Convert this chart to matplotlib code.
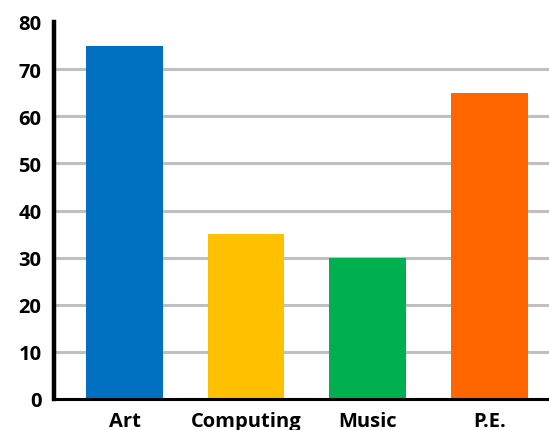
import numpy as np
import matplotlib
matplotlib.use("Agg")
import matplotlib.pyplot as plt

subjects = ["Art", "Computing", "Music", "P.E."]
values = [75, 35, 30, 65]
colours = ["#0070C0", "#FFC000", "#00B050", "#FF6600"]
yticks = [0, 10, 20, 30, 40, 50, 60, 70, 80]

plt.rcParams['font.family'] = ['Open Sans', 'DejaVu Sans']

fig = plt.figure(figsize=(5.49, 4.31), dpi=100)
ax = fig.add_axes([54/549, 31/431, 495/549, 377/431])

x = np.arange(len(subjects))
ax.bar(x, values, width=0.63, color=colours, zorder=3)

ax.set_xlim(-0.58, 3.49)
ax.set_ylim(0, 80)
ax.set_yticks(yticks)
ax.set_xticks(x)
ax.set_xticklabels(subjects)
ax.tick_params(axis='both', length=0, labelsize=14.5, pad=9)
ax.tick_params(axis='x', pad=9)
for lab in ax.get_xticklabels() + ax.get_yticklabels():
    lab.set_fontweight('bold')

ax.yaxis.grid(True, color="#C0C0C0", linewidth=2.2, zorder=0)
ax.get_ygridlines()[0].set_visible(False)
ax.get_ygridlines()[-1].set_visible(False)
ax.set_axisbelow(True)

ax.spines['top'].set_visible(False)
ax.spines['right'].set_visible(False)
ax.spines['left'].set_linewidth(3.2)
ax.spines['bottom'].set_linewidth(2.2)
ax.spines['left'].set_zorder(5)
ax.spines['bottom'].set_zorder(5)

fig.savefig("out.png", dpi=100)
